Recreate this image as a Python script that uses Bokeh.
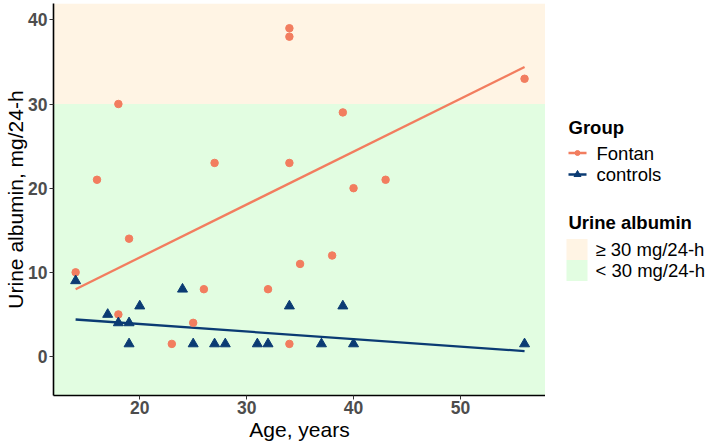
from bokeh.plotting import figure
from bokeh.layouts import row
from bokeh.models import Range1d, BoxAnnotation, FixedTicker, Label
from bokeh.embed import file_html
from bokeh.resources import INLINE

# ---- data ----
fontan_age = [34, 34, 18, 16, 27, 34, 56, 39, 40, 43, 14, 19, 18, 25, 26, 23, 32, 34, 35, 38]
fontan_alb = [39, 38, 30, 21, 23, 23, 33, 29, 20, 21, 10, 14, 5, 4, 8, 1.5, 8, 1.5, 11, 12]
control_age = [14, 17, 18, 19, 19, 20, 24, 25, 27, 28, 31, 32, 34, 37, 39, 40, 56]
control_alb = [9, 5, 4, 4, 1.5, 6, 8, 1.5, 1.5, 1.5, 1.5, 1.5, 6, 1.5, 6, 1.5, 1.5]
fit_age = [14, 56]
fontan_fit = [8.0, 34.4]
control_fit = [4.4, 0.65]
threshold = 30
x_ticks = [20, 30, 40, 50]
y_ticks = [0, 10, 20, 30, 40]
groups = ["Fontan", "controls"]
albumin_levels = ["\u2265 30 mg/24-h", "< 30 mg/24-h"]

# ---- styles ----
ORANGE = "#F27D5F"
NAVY = "#0B3B73"
PEACH = "#FFF4E4"
MINT = "#E2FDE1"
FONT = "Liberation Sans"

p = figure(width=545, height=445,
           x_range=Range1d(11.93, 57.96), y_range=Range1d(-4.63, 41.94),
           output_backend="svg", toolbar_location=None,
           min_border_left=53, min_border_right=0,
           min_border_top=3, min_border_bottom=50)
p.outline_line_color = None
p.grid.visible = False
p.background_fill_color = "white"

p.add_layout(BoxAnnotation(bottom=threshold, fill_color=PEACH, fill_alpha=1,
                           line_color=None, level="underlay"))
p.add_layout(BoxAnnotation(top=threshold, fill_color=MINT, fill_alpha=1,
                           line_color=None, level="underlay"))

p.line(fit_age, fontan_fit, line_color=ORANGE, line_width=2.3)
p.line(fit_age, control_fit, line_color=NAVY, line_width=2.3)
p.scatter(fontan_age, fontan_alb, marker="circle", size=7.5,
          fill_color=ORANGE, line_color=ORANGE)
p.scatter(control_age, control_alb, marker="triangle", size=10,
          fill_color=NAVY, line_color=NAVY)

p.xaxis.ticker = FixedTicker(ticks=x_ticks)
p.yaxis.ticker = FixedTicker(ticks=y_ticks)
p.xaxis.axis_label = "Age, years"
p.yaxis.axis_label = "Urine albumin, mg/24-h"
for ax in (p.xaxis[0], p.yaxis[0]):
    ax.axis_line_color = "black"
    ax.axis_line_width = 1.6
    ax.major_tick_line_color = "#333333"
    ax.major_tick_line_width = 1
    ax.major_tick_out = 4
    ax.major_tick_in = 0
    ax.minor_tick_out = 0
    ax.minor_tick_in = 0
    ax.major_label_text_font = FONT
    ax.major_label_text_font_style = "bold"
    ax.major_label_text_font_size = "17.5px"
    ax.major_label_text_color = "#4D4D4D"
    ax.axis_label_text_font = FONT
    ax.axis_label_text_font_style = "normal"
    ax.axis_label_text_font_size = "21px"
    ax.axis_label_text_color = "black"
p.xaxis.major_label_standoff = 1
p.xaxis.axis_label_standoff = 1
p.yaxis.major_label_standoff = 2
p.yaxis.axis_label_standoff = -2

# ---- legend panel (coordinates are page pixels, y downwards) ----
leg = figure(width=164, height=445, x_range=Range1d(545, 709), y_range=Range1d(395, 3),
             output_backend="svg", toolbar_location=None,
             min_border_left=0, min_border_right=0, min_border_top=3, min_border_bottom=50,
             x_axis_location=None, y_axis_location=None)
leg.outline_line_color = None
leg.grid.visible = False

leg.add_layout(Label(x=568, y=127, text="Group", text_font=FONT, text_font_size="18.5px",
                     text_font_style="bold", text_baseline="middle", text_color="black"))
key_colors = [ORANGE, NAVY]
key_markers = ["circle", "triangle"]
key_sizes = [5, 7]
key_y = [152.5, 174]
for g, c, m, s, yy in zip(groups, key_colors, key_markers, key_sizes, key_y):
    leg.line([568, 586], [yy, yy], line_color=c, line_width=2.3)
    leg.scatter([577], [yy], marker=m, size=s, fill_color=c, line_color=c)
    leg.add_layout(Label(x=596, y=yy, text=g, text_font=FONT, text_font_size="18.5px",
                         text_baseline="middle", text_color="black"))

leg.add_layout(Label(x=568, y=222, text="Urine albumin", text_font=FONT,
                     text_font_size="18.5px", text_font_style="bold",
                     text_baseline="middle", text_color="black"))
box_colors = [PEACH, MINT]
box_y = [249, 270]
for lab, c, yy in zip(albumin_levels, box_colors, box_y):
    leg.quad(left=[566], right=[587], top=[yy - 10.5], bottom=[yy + 10.5],
             fill_color=c, line_color=None)
    leg.add_layout(Label(x=595, y=yy, text=lab, text_font=FONT, text_font_size="18.5px",
                         text_baseline="middle", text_color="black"))

layout = row(p, leg)
open("out.html", "w").write(file_html(layout, INLINE))
